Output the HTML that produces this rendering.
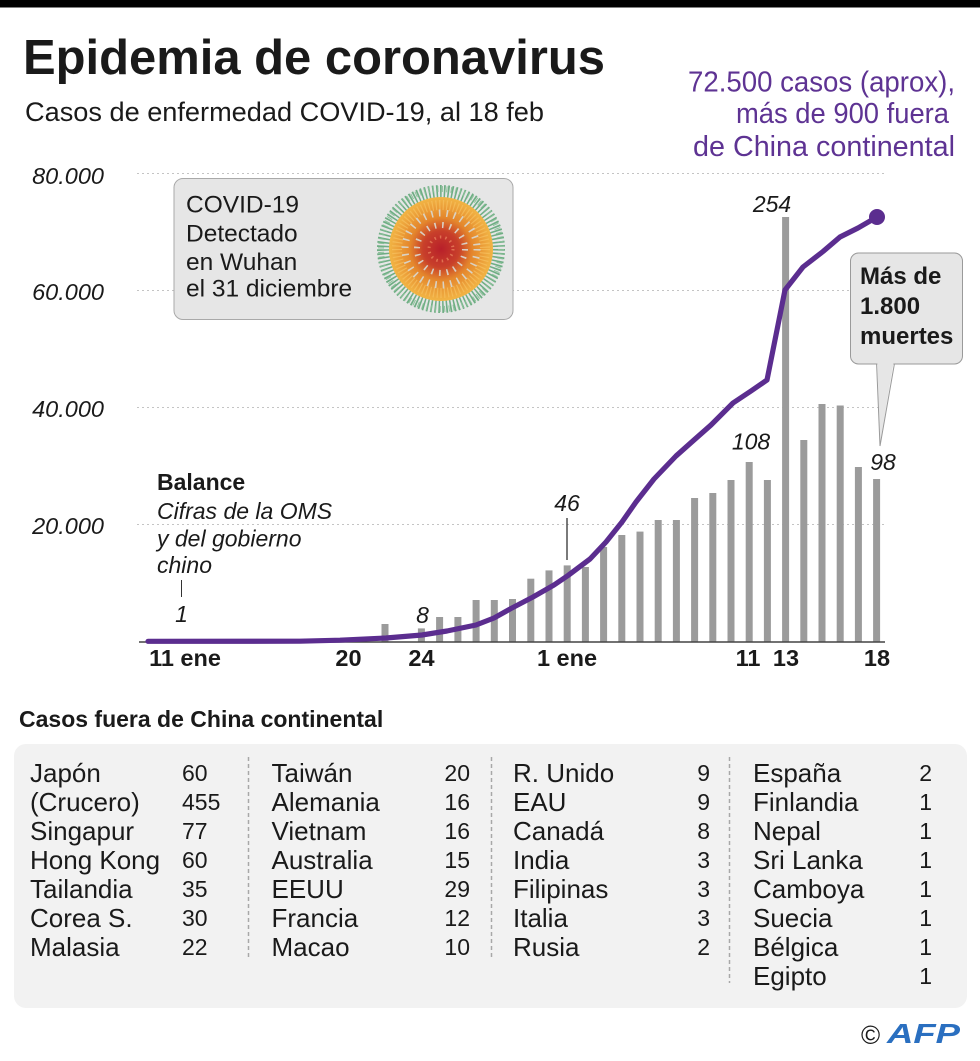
<!DOCTYPE html>
<html>
<head>
<meta charset="utf-8">
<style>
html,body{margin:0;padding:0;background:#fff;}
svg{display:block;}
text{font-family:"Liberation Sans",sans-serif;fill:#1a1a1a;}
.it{font-style:italic;}
.b{font-weight:bold;}
</style>
</head>
<body>
<svg width="980" height="1061" viewBox="0 0 980 1061" xmlns="http://www.w3.org/2000/svg">
<defs>
<radialGradient id="vg" cx="50%" cy="50%" r="50%">
<stop offset="0" stop-color="#b81f2a"/>
<stop offset="0.35" stop-color="#c8402a"/>
<stop offset="0.6" stop-color="#e4862c"/>
<stop offset="1" stop-color="#f2b545"/>
</radialGradient>
</defs>
<rect x="0" y="0" width="980" height="7.5" fill="#000"/>

<!-- Title -->
<text x="23" y="74" class="b" font-size="49" textLength="582" lengthAdjust="spacingAndGlyphs" fill="#111">Epidemia de coronavirus</text>
<text x="25" y="121" font-size="27" textLength="519" lengthAdjust="spacingAndGlyphs">Casos de enfermedad COVID-19, al 18 feb</text>

<!-- Purple annotation -->
<text x="955" y="91.5" font-size="28.5" text-anchor="end" textLength="267" lengthAdjust="spacingAndGlyphs" style="fill:#5e3393">72.500 casos (aprox),</text>
<text x="949" y="123" font-size="28.5" text-anchor="end" textLength="213" lengthAdjust="spacingAndGlyphs" style="fill:#5e3393">más de 900 fuera</text>
<text x="955" y="156" font-size="28.5" text-anchor="end" textLength="262" lengthAdjust="spacingAndGlyphs" style="fill:#5e3393">de China continental</text>

<!-- Gridlines -->
<g stroke="#c4c4c4" stroke-width="1" stroke-dasharray="2 3">
<line x1="137" y1="173.5" x2="885" y2="173.5"/>
<line x1="137" y1="290.5" x2="885" y2="290.5"/>
<line x1="137" y1="407.5" x2="885" y2="407.5"/>
<line x1="137" y1="524.5" x2="885" y2="524.5"/>
</g>

<!-- Y labels -->
<g class="it" font-size="23.5" text-anchor="end">
<text x="104" y="184" class="it">80.000</text>
<text x="104" y="300" class="it">60.000</text>
<text x="104" y="417" class="it">40.000</text>
<text x="104" y="534" class="it">20.000</text>
</g>

<!-- COVID box -->
<rect x="174" y="178.5" width="339" height="141" rx="9" fill="#e6e6e6" stroke="#a9a9a9" stroke-width="1"/>
<g font-size="24.5">
<text x="186" y="212.3">COVID-19</text>
<text x="186" y="241.7">Detectado</text>
<text x="186" y="270">en Wuhan</text>
<text x="186" y="296.7">el 31 diciembre</text>
</g>
<!-- Virus -->
<g>
<circle cx="441" cy="249" r="56" fill="none" stroke="#6fae84" stroke-width="16" stroke-dasharray="1.6 2.1"/>
<circle cx="441" cy="249" r="60" fill="none" stroke="#8cc09a" stroke-width="6" stroke-dasharray="1 3.5"/>
<circle cx="441" cy="249" r="52" fill="url(#vg)"/>
<circle cx="441" cy="249" r="44" fill="none" stroke="#f6c060" stroke-width="10" stroke-dasharray="1.2 2.4" opacity="0.7"/>
<circle cx="441" cy="249" r="36" fill="none" stroke="#d9d2c4" stroke-width="7" stroke-dasharray="1.6 6"/>
<circle cx="441" cy="249" r="24" fill="none" stroke="#d9cfc4" stroke-width="6" stroke-dasharray="1.6 6"/>
<circle cx="441" cy="249" r="12" fill="none" stroke="#e07050" stroke-width="3" stroke-dasharray="1.5 4"/>
</g>

<!-- Bars -->
<g fill="#9b9b9b">
<rect x="381.5" y="624" width="7" height="17.5"/>
<rect x="417.9" y="628.4" width="7" height="13.1"/>
<rect x="436.1" y="617" width="7" height="24.5"/>
<rect x="454.4" y="617" width="7" height="24.5"/>
<rect x="472.6" y="600" width="7" height="41.5"/>
<rect x="490.8" y="600" width="7" height="41.5"/>
<rect x="509" y="599" width="7" height="42.5"/>
<rect x="527.3" y="578.7" width="7" height="62.8"/>
<rect x="545.5" y="570.4" width="7" height="71.1"/>
<rect x="563.7" y="565.4" width="7" height="76.1"/>
<rect x="581.9" y="567" width="7" height="74.5"/>
<rect x="600.1" y="547" width="7" height="94.5"/>
<rect x="618.3" y="535" width="7" height="106.5"/>
<rect x="636.5" y="531.6" width="7" height="109.9"/>
<rect x="654.7" y="520" width="7" height="121.5"/>
<rect x="672.9" y="520" width="7" height="121.5"/>
<rect x="691.1" y="498" width="7" height="143.5"/>
<rect x="709.3" y="493" width="7" height="148.5"/>
<rect x="727.5" y="480" width="7" height="161.5"/>
<rect x="745.7" y="462" width="7" height="179.5"/>
<rect x="763.9" y="480" width="7" height="161.5"/>
<rect x="782.1" y="217" width="7" height="424.5"/>
<rect x="800.3" y="440" width="7" height="201.5"/>
<rect x="818.5" y="404" width="7" height="237.5"/>
<rect x="836.7" y="405.5" width="7" height="236"/>
<rect x="854.9" y="467" width="7" height="174.5"/>
<rect x="873.1" y="479" width="7" height="162.5"/>
</g>

<!-- Axis -->
<line x1="139" y1="642" x2="885" y2="642" stroke="#444" stroke-width="1.6"/>

<!-- Callout box Más de -->
<rect x="850.5" y="253" width="112" height="111" rx="8" fill="#e6e6e6" stroke="#9a9a9a" stroke-width="1"/>
<polygon points="877.3,362 893.7,362 880,444" fill="#e6e6e6"/>
<polyline points="876.6,364 880,446 894.4,364" fill="none" stroke="#9a9a9a" stroke-width="1"/>
<g class="b" font-size="24" fill="#111">
<text x="860" y="284" class="b">Más de</text>
<text x="860" y="314" class="b">1.800</text>
<text x="860" y="344" class="b">muertes</text>
</g>

<!-- Line -->
<polyline fill="none" stroke="#5b2d8f" stroke-width="5.2" stroke-linejoin="round" stroke-linecap="round"
points="148,641.3 300,641.2 340,640.2 386,638 422,635 447,631 476,625 494,618 511,608.5 533,597 554,585 568,575.5 590,559 606,542 622,522 636,502 654,479 676,456 694,440 711,425 733,403 751,391 767,380 785,290 803,267 823,251.5 840,237 858,228 877,217"/>
<circle cx="877" cy="217" r="8" fill="#5b2d8f"/>

<!-- Bar labels -->
<g class="it" font-size="23" text-anchor="middle">
<text x="181.5" y="622" class="it">1</text>
<text x="422.5" y="623" class="it">8</text>
<text x="567" y="511" class="it">46</text>
<text x="751" y="449.5" class="it">108</text>
<text x="772" y="212" class="it">254</text>
<text x="883" y="470" class="it">98</text>
</g>
<line x1="181.5" y1="580" x2="181.5" y2="597" stroke="#333" stroke-width="1"/>
<line x1="567" y1="518" x2="567" y2="560" stroke="#222" stroke-width="1.2"/>

<!-- Balance -->
<text x="157" y="490" class="b" font-size="23">Balance</text>
<g class="it" font-size="23">
<text x="157" y="519" class="it">Cifras de la OMS</text>
<text x="157" y="546.5" class="it">y del gobierno</text>
<text x="157" y="573" class="it">chino</text>
</g>

<!-- X labels -->
<g class="b" font-size="23.5" text-anchor="middle">
<text x="185" y="666" class="b">11 ene</text>
<text x="348.5" y="666" class="b">20</text>
<text x="421.5" y="666" class="b">24</text>
<text x="567" y="666" class="b">1 ene</text>
<text x="748" y="666" class="b">11</text>
<text x="786" y="666" class="b">13</text>
<text x="877" y="666" class="b">18</text>
</g>

<!-- Table -->
<text x="19" y="727" class="b" font-size="23">Casos fuera de China continental</text>
<rect x="14" y="744" width="953" height="264" rx="12" fill="#f2f2f2"/>
<g stroke="#a8a8a8" stroke-width="1.5" stroke-dasharray="4 3">
<line x1="248.5" y1="757" x2="248.5" y2="960"/>
<line x1="491.5" y1="757" x2="491.5" y2="960"/>
<line x1="729.5" y1="757" x2="729.5" y2="983"/>
</g>
<g font-size="26">
<text x="30" y="782">Japón</text>
<text x="30" y="811">(Crucero)</text>
<text x="30" y="840">Singapur</text>
<text x="30" y="869">Hong Kong</text>
<text x="30" y="898">Tailandia</text>
<text x="30" y="927">Corea S.</text>
<text x="30" y="956">Malasia</text>

<text x="271.5" y="782">Taiwán</text>
<text x="271.5" y="811">Alemania</text>
<text x="271.5" y="840">Vietnam</text>
<text x="271.5" y="869">Australia</text>
<text x="271.5" y="898">EEUU</text>
<text x="271.5" y="927">Francia</text>
<text x="271.5" y="956">Macao</text>

<text x="513" y="782">R. Unido</text>
<text x="513" y="811">EAU</text>
<text x="513" y="840">Canadá</text>
<text x="513" y="869">India</text>
<text x="513" y="898">Filipinas</text>
<text x="513" y="927">Italia</text>
<text x="513" y="956">Rusia</text>

<text x="753" y="782">España</text>
<text x="753" y="811">Finlandia</text>
<text x="753" y="840">Nepal</text>
<text x="753" y="869">Sri Lanka</text>
<text x="753" y="898">Camboya</text>
<text x="753" y="927">Suecia</text>
<text x="753" y="956">Bélgica</text>
<text x="753" y="985">Egipto</text>
</g>
<g font-size="23">
<text x="182" y="781">60</text>
<text x="182" y="810">455</text>
<text x="182" y="839">77</text>
<text x="182" y="868">60</text>
<text x="182" y="897">35</text>
<text x="182" y="926">30</text>
<text x="182" y="955">22</text>
</g>
<g font-size="23" text-anchor="end">
<text x="470" y="781">20</text>
<text x="470" y="810">16</text>
<text x="470" y="839">16</text>
<text x="470" y="868">15</text>
<text x="470" y="897">29</text>
<text x="470" y="926">12</text>
<text x="470" y="955">10</text>

<text x="710" y="781">9</text>
<text x="710" y="810">9</text>
<text x="710" y="839">8</text>
<text x="710" y="868">3</text>
<text x="710" y="897">3</text>
<text x="710" y="926">3</text>
<text x="710" y="955">2</text>

<text x="932" y="781">2</text>
<text x="932" y="810">1</text>
<text x="932" y="839">1</text>
<text x="932" y="868">1</text>
<text x="932" y="897">1</text>
<text x="932" y="926">1</text>
<text x="932" y="955">1</text>
<text x="932" y="984">1</text>
</g>

<!-- AFP -->
<text x="861" y="1044" font-size="26" fill="#222">©</text>
<text x="887" y="1043" class="b it" font-size="28" textLength="73" lengthAdjust="spacingAndGlyphs" style="fill:#2a6fc0;font-weight:bold;font-style:italic">AFP</text>
</svg>
</body>
</html>
